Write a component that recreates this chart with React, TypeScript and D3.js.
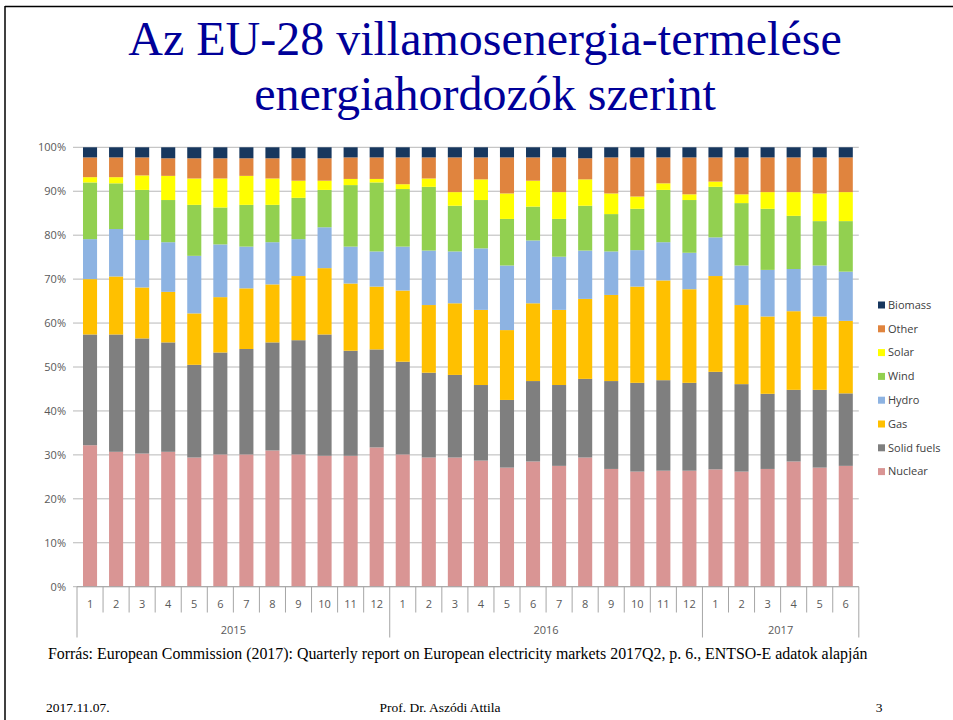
import React from "react";
import * as d3 from "d3";

const months = ["1","2","3","4","5","6","7","8","9","10","11","12","1","2","3","4","5","6","7","8","9","10","11","12","1","2","3","4","5","6"];
const years = ["2015", "2016", "2017"];
const yearCounts = [12, 12, 6];

const seriesNames = ["Nuclear", "Solid fuels", "Gas", "Hydro", "Wind", "Solar", "Other", "Biomass"];
const seriesColors = ["#d99594", "#7f7f7f", "#ffc000", "#8db3e2", "#92d050", "#ffff00", "#e0843e", "#17375e"];

const nuclear = [32.2,30.7,30.3,30.7,29.4,30.1,30.1,31.0,30.1,29.8,29.8,31.7,30.1,29.4,29.4,28.7,27.1,28.5,27.5,29.4,26.8,26.2,26.4,26.4,26.7,26.2,26.8,28.5,27.1,27.5];
const solidFuels = [25.2,26.7,26.2,24.9,21.1,23.2,24.0,24.6,26.0,27.6,23.9,22.3,21.1,19.3,18.8,17.2,15.4,18.3,18.4,17.9,20.0,20.2,20.6,20.0,22.2,19.9,17.1,16.3,17.7,16.5];
const gas = [12.6,13.2,11.6,11.5,11.7,12.6,13.8,13.2,14.6,15.1,15.3,14.3,16.2,15.4,16.3,17.1,15.9,17.7,17.1,18.2,19.6,21.9,22.7,21.3,21.8,18.0,17.6,17.9,16.7,16.5];
const hydro = [9.1,10.8,10.8,11.3,13.1,12.0,9.5,9.6,8.4,9.3,8.4,8.0,10.0,12.4,11.8,14.0,14.7,14.3,12.1,11.0,9.9,8.3,8.7,8.3,8.8,9.0,10.6,9.6,11.6,11.2];
const wind = [12.9,10.4,11.4,9.6,11.6,8.4,9.5,8.5,9.4,8.5,14.0,15.7,13.1,14.5,10.4,11.0,10.6,7.7,8.6,10.2,8.5,9.4,11.9,12.0,11.5,14.2,13.9,12.1,10.1,11.5];
const solar = [1.2,1.4,3.3,5.5,6.0,6.6,6.6,6.0,3.9,2.1,1.4,0.8,1.1,1.9,3.1,4.7,5.8,5.9,6.1,6.0,4.7,2.8,1.5,1.3,1.2,2.0,3.8,5.4,6.3,6.6];
const other = [4.5,4.5,4.1,4.0,4.6,4.6,4.0,4.6,5.1,5.1,4.9,4.9,6.1,4.8,7.9,5.0,8.2,5.3,7.9,4.8,8.2,8.9,5.9,8.4,5.5,8.4,7.9,7.9,8.2,7.9];
const biomass = [2.3,2.3,2.3,2.5,2.5,2.5,2.5,2.5,2.5,2.5,2.3,2.3,2.3,2.3,2.3,2.3,2.3,2.3,2.3,2.5,2.3,2.3,2.3,2.3,2.3,2.3,2.3,2.3,2.3,2.3];

const yTicks = [0, 10, 20, 30, 40, 50, 60, 70, 80, 90, 100];

const seriesValues = [nuclear, solidFuels, gas, hydro, wind, solar, other, biomass];

export default function App() {
  const W = 953, H = 720;
  const plotLeft = 77, plotRight = 858.8, plotTop = 147.3, plotBottom = 586.7;
  const axisFont = "'Open Sans', 'DejaVu Sans', sans-serif";
  const serif = "'Liberation Serif', 'Times New Roman', serif";

  const idx = months.map((_, i) => i);
  const x = d3.scaleBand<number>().domain(idx).range([plotLeft, plotRight]).paddingInner(0.46).paddingOuter(0.23);
  const step = x.step();
  const y = d3.scaleLinear().domain([0, 100]).range([plotBottom, plotTop]);

  const table = idx.map((i) => {
    const row: Record<string, number> = { i };
    seriesNames.forEach((n, k) => (row[n] = seriesValues[k][i]));
    return row;
  });
  const stacked = d3.stack<Record<string, number>>().keys(seriesNames)(table);

  const yearStarts: number[] = [];
  let acc = 0;
  yearCounts.forEach((c) => { yearStarts.push(acc); acc += c; });

  const legendOrder = [...seriesNames].map((n, k) => ({ n, c: seriesColors[k] })).reverse();

  return (
    <svg width={W} height={H} style={{ position: "absolute", left: 0, top: 0, background: "#fff" }}>
      <rect x={0} y={0} width={W} height={H} fill="#fff" />
      <line x1={5} y1={6.5} x2={W} y2={6.5} stroke="#000" strokeWidth={1.5} />
      <line x1={5} y1={6} x2={5} y2={H} stroke="#000" strokeWidth={1.5} />

      <text x={485} y={55} textAnchor="middle" fontFamily={serif} fontSize={48} fill="#000099">Az EU-28 villamosenergia-termelése</text>
      <text x={485} y={110} textAnchor="middle" fontFamily={serif} fontSize={48} fill="#000099">energiahordozók szerint</text>

      {yTicks.map((t) => (
        <g key={t}>
          <line x1={plotLeft - 4} x2={plotRight} y1={y(t)} y2={y(t)} stroke="#b8b8b8" strokeWidth={1} />
          <text x={66} y={y(t)} dy="0.35em" textAnchor="end" fontFamily={axisFont} fontSize={11} fill="#595959">{t}%</text>
        </g>
      ))}

      {stacked.map((s, k) => (
        <g key={s.key} fill={seriesColors[k]}>
          {s.map((d, i) => (
            <rect key={i} x={x(i)} width={x.bandwidth()} y={y(d[1])} height={Math.max(0, y(d[0]) - y(d[1]))} />
          ))}
        </g>
      ))}

      <line x1={plotLeft} x2={plotRight} y1={plotBottom} y2={plotBottom} stroke="#a6a6a6" strokeWidth={1} />
      {d3.range(months.length + 1).map((k) => {
        const xx = plotLeft + k * step;
        const isYear = k === 0 || k === months.length || yearStarts.includes(k);
        return <line key={k} x1={xx} x2={xx} y1={plotBottom} y2={isYear ? 637.5 : 612.5} stroke="#a6a6a6" strokeWidth={1} />;
      })}
      {months.map((m, i) => (
        <text key={i} x={(x(i) as number) + x.bandwidth() / 2} y={604} dy="0.35em" textAnchor="middle" fontFamily={axisFont} fontSize={11} fill="#595959">{m}</text>
      ))}
      {years.map((yr, k) => {
        const a = plotLeft + yearStarts[k] * step;
        const b = a + yearCounts[k] * step;
        return <text key={yr} x={(a + b) / 2} y={630} dy="0.35em" textAnchor="middle" fontFamily={axisFont} fontSize={11} fill="#595959">{yr}</text>;
      })}

      {legendOrder.map((l, k) => (
        <g key={l.n} transform={`translate(878, ${305 + k * 23.8})`}>
          <rect x={0} y={-3.5} width={7} height={7} fill={l.c} />
          <text x={10} y={0} dy="0.35em" fontFamily={axisFont} fontSize={11} fill="#404040">{l.n}</text>
        </g>
      ))}

      <text x={48} y={659} fontFamily={serif} fontSize={15.9} fill="#000">Forrás: European Commission (2017): Quarterly report on European electricity markets 2017Q2, p. 6., ENTSO-E adatok alapján</text>

      <text x={46} y={712} fontFamily={serif} fontSize={13.5} fill="#000">2017.11.07.</text>
      <text x={440} y={712} textAnchor="middle" fontFamily={serif} fontSize={13.5} fill="#000">Prof. Dr. Aszódi Attila</text>
      <text x={879} y={712} textAnchor="middle" fontFamily={serif} fontSize={13.5} fill="#000">3</text>
    </svg>
  );
}
